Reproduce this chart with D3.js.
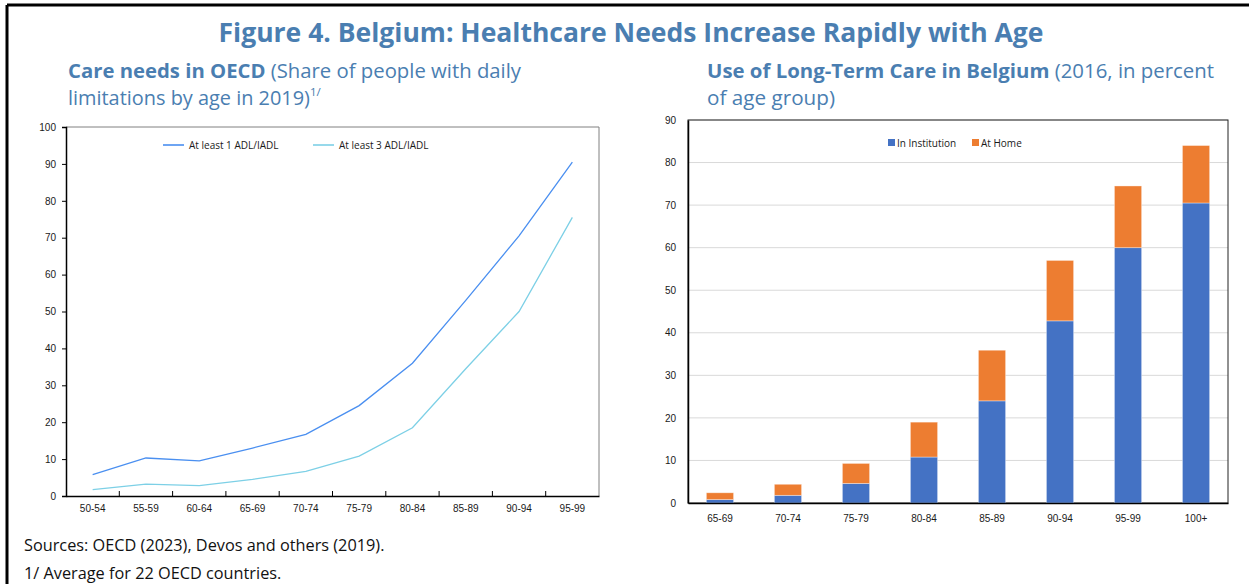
<!DOCTYPE html>
<html>
<head>
<meta charset="utf-8">
<script src="https://cdn.jsdelivr.net/npm/d3@7"></script>
<style>
  html, body { margin: 0; padding: 0; background: #fff; }
  svg { display: block; font-family: "Open Sans", "Noto Sans", sans-serif; }
</style>
</head>
<body>
<svg id="fig" width="1249" height="584"></svg>
<script>
// ---- Data ----
const ageGroupsOECD = ["50-54","55-59","60-64","65-69","70-74","75-79","80-84","85-89","90-94","95-99"];
const atLeast1ADL = [5.8, 10.3, 9.5, 13.0, 16.7, 24.5, 36.0, 53.0, 70.5, 90.5];
const atLeast3ADL = [1.7, 3.2, 2.8, 4.5, 6.7, 10.8, 18.5, 34.5, 50.0, 75.5];
const oecdTicks = [0,10,20,30,40,50,60,70,80,90,100];

const ageGroupsBE = ["65-69","70-74","75-79","80-84","85-89","90-94","95-99","100+"];
const inInstitution = [0.8, 1.8, 4.6, 10.8, 24.0, 42.8, 60.0, 70.5];
const atHome = [1.6, 2.6, 4.7, 8.2, 11.9, 14.2, 14.5, 13.5];
const beTicks = [0,10,20,30,40,50,60,70,80,90];

const titleBlue = "#4a7eb1";
const svg = d3.select("#fig");

// Outer frame (top and left edges visible)
svg.append("line").attr("x1", 7).attr("x2", 1249).attr("y1", 5).attr("y2", 5)
  .attr("stroke", "#000").attr("stroke-width", 3);
svg.append("line").attr("x1", 7).attr("x2", 7).attr("y1", 5).attr("y2", 584)
  .attr("stroke", "#000").attr("stroke-width", 3);

// Main title
svg.append("text").attr("x", 631).attr("y", 42).attr("text-anchor", "middle")
  .attr("fill", titleBlue).attr("font-size", 27).attr("font-weight", 700)
  .attr("textLength", 825).attr("lengthAdjust", "spacingAndGlyphs")
  .text("Figure 4. Belgium: Healthcare Needs Increase Rapidly with Age");

// Panel subtitles
function subtitle(x, y, bold, rest, width) {
  const t = svg.append("text").attr("x", x).attr("y", y).attr("fill", titleBlue)
    .attr("font-size", 20);
  if (width) t.attr("textLength", width).attr("lengthAdjust", "spacingAndGlyphs");
  if (bold) t.append("tspan").attr("font-weight", 700).text(bold);
  t.append("tspan").attr("font-weight", 400).text(rest);
  return t;
}
subtitle(68, 78, "Care needs in OECD", " (Share of people with daily", 453);
subtitle(68, 105, null, "limitations by age in 2019)", 242);
svg.append("text").attr("x", 310).attr("y", 96).attr("fill", titleBlue)
  .attr("font-size", 11.5).text("1/");
subtitle(707, 78, "Use of Long-Term Care in Belgium", " (2016, in percent", 507);
subtitle(707, 105, null, "of age group)", 128);

// ---- Left panel: line chart ----
const L = { left: 66, right: 599, top: 127, bottom: 496 };
const xL = d3.scaleBand().domain(ageGroupsOECD).range([L.left, L.right]).padding(0);
const yL = d3.scaleLinear().domain([0, 100]).range([L.bottom, L.top]);

// frame: light top/right edges
svg.append("path")
  .attr("d", `M${L.left},${L.top}H${L.right}V${L.bottom}`)
  .attr("fill", "none").attr("stroke", "#808080").attr("stroke-width", 1);

const gyL = svg.append("g").attr("transform", `translate(${L.left},0)`)
  .call(d3.axisLeft(yL).tickValues(oecdTicks).tickSize(4).tickPadding(6));
const gxL = svg.append("g").attr("transform", `translate(0,${L.bottom})`)
  .call(d3.axisBottom(xL).tickSize(0).tickPadding(9));
[gyL, gxL].forEach(g => {
  g.select(".domain").attr("stroke", "#000").attr("stroke-width", 1.5);
  g.selectAll(".tick line").attr("stroke", "#000");
  g.selectAll("text").attr("font-size", 10).attr("fill", "#1a1a1a");
});
// inner ticks between categories
svg.append("g").selectAll("line").data(ageGroupsOECD.slice(1)).join("line")
  .attr("x1", d => xL(d)).attr("x2", d => xL(d))
  .attr("y1", L.bottom).attr("y2", L.bottom - 5)
  .attr("stroke", "#000").attr("stroke-width", 1);

const lineGen = d3.line()
  .x((d, i) => xL(ageGroupsOECD[i]) + xL.bandwidth() / 2)
  .y(d => yL(d));
const seriesL = [
  { name: "At least 1 ADL/IADL", values: atLeast1ADL, color: "#4a8ff0" },
  { name: "At least 3 ADL/IADL", values: atLeast3ADL, color: "#7dd0e6" }
];
seriesL.forEach(s => {
  svg.append("path").datum(s.values).attr("d", lineGen)
    .attr("fill", "none").attr("stroke", s.color).attr("stroke-width", 1.3);
});
// legend
const legL = [{ x: 163 }, { x: 313 }];
seriesL.forEach((s, i) => {
  const x0 = legL[i].x;
  svg.append("line").attr("x1", x0).attr("x2", x0 + 21).attr("y1", 145).attr("y2", 145)
    .attr("stroke", s.color).attr("stroke-width", 1.6);
  svg.append("text").attr("x", x0 + 26).attr("y", 148.5).attr("font-size", 10)
    .attr("fill", "#1a1a1a").text(s.name);
});

// ---- Right panel: stacked bars ----
const R = { left: 688, right: 1228, top: 120, bottom: 503 };
const xR = d3.scaleBand().domain(ageGroupsBE).range([R.left, R.right])
  .paddingInner(0.6).paddingOuter(0.27);
const yR = d3.scaleLinear().domain([0, 90]).range([R.bottom, R.top]);

// gridlines
svg.append("g").selectAll("line").data(beTicks.slice(1)).join("line")
  .attr("x1", R.left).attr("x2", R.right)
  .attr("y1", d => yR(d)).attr("y2", d => yR(d))
  .attr("stroke", "#d9d9d9").attr("stroke-width", 1);
svg.append("rect").attr("x", R.left).attr("y", R.top)
  .attr("width", R.right - R.left).attr("height", R.bottom - R.top)
  .attr("fill", "none").attr("stroke", "#222").attr("stroke-width", 1);

const stackData = ageGroupsBE.map((g, i) => ({ group: g, inst: inInstitution[i], home: atHome[i] }));
const stacked = d3.stack().keys(["inst", "home"])(stackData);
const barColors = { inst: "#4472c4", home: "#ed7d31" };
svg.append("g").selectAll("g").data(stacked).join("g")
  .attr("fill", d => barColors[d.key])
  .selectAll("rect").data(d => d).join("rect")
  .attr("x", d => xR(d.data.group))
  .attr("width", xR.bandwidth())
  .attr("y", d => yR(d[1]))
  .attr("height", d => yR(d[0]) - yR(d[1]))
  .attr("stroke", "rgba(255,255,255,0.45)").attr("stroke-width", 0.8);

const gyR = svg.append("g").attr("transform", `translate(${R.left},0)`)
  .call(d3.axisLeft(yR).tickValues(beTicks).tickSize(0).tickPadding(12));
const gxR = svg.append("g").attr("transform", `translate(0,${R.bottom})`)
  .call(d3.axisBottom(xR).tickSize(0).tickPadding(12));
[gyR, gxR].forEach(g => {
  g.select(".domain").attr("stroke", "#000").attr("stroke-width", 1.5);
  g.selectAll("text").attr("font-size", 10).attr("fill", "#1a1a1a");
});

// legend
const legR = [{ key: "inst", label: "In Institution", x: 888 }, { key: "home", label: "At Home", x: 972 }];
legR.forEach(d => {
  svg.append("rect").attr("x", d.x).attr("y", 139).attr("width", 7).attr("height", 7)
    .attr("fill", barColors[d.key]);
  svg.append("text").attr("x", d.x + 9).attr("y", 146.5).attr("font-size", 10)
    .attr("fill", "#1a1a1a").text(d.label);
});

// ---- Notes ----
svg.append("text").attr("x", 24).attr("y", 551).attr("font-size", 16.3).attr("fill", "#111")
  .text("Sources: OECD (2023), Devos and others (2019).");
svg.append("text").attr("x", 24).attr("y", 579).attr("font-size", 16.3).attr("fill", "#111")
  .text("1/ Average for 22 OECD countries.");
</script>
</body>
</html>
